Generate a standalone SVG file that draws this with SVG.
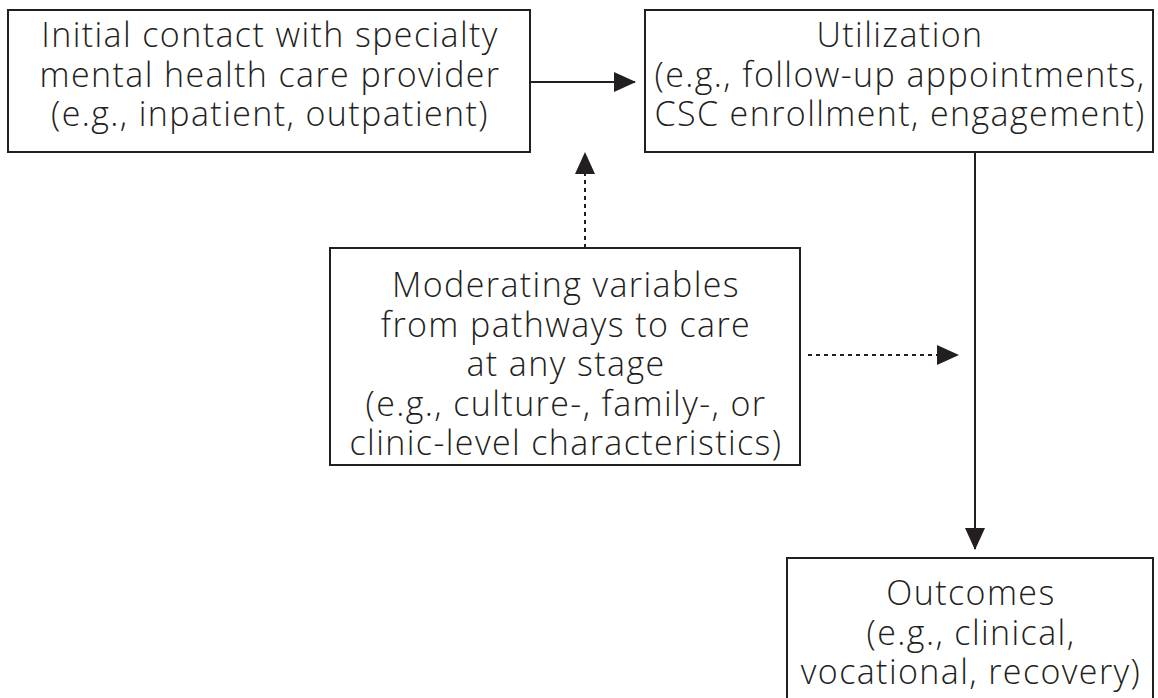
<svg xmlns="http://www.w3.org/2000/svg" width="1158" height="698" viewBox="0 0 1158 698">
<style>
.box{fill:#fff;stroke:#231f20;stroke-width:2}
.t{font-family:"Open Sans","Lato","DejaVu Sans",sans-serif;font-weight:300;font-size:34px;letter-spacing:1.4px;fill:#231f20;text-anchor:middle}
.c{stroke:#231f20;stroke-width:2;fill:none}
.d{stroke-dasharray:4 4}
</style>
<defs>
<marker id="ah" markerWidth="22" markerHeight="20" refX="21" refY="10" orient="auto" markerUnits="userSpaceOnUse">
<path d="M0,0 L22,10 L0,20 Z" fill="#231f20"/>
</marker>
</defs>
<rect width="1158" height="698" fill="#fff"/>
<g id="connectors">
<line class="c" x1="530" y1="82" x2="635" y2="82" marker-end="url(#ah)"/>
<line class="c d" x1="585" y1="248" x2="585" y2="153" marker-end="url(#ah)"/>
<line class="c d" x1="808" y1="355" x2="958" y2="355" marker-end="url(#ah)"/>
<line class="c" x1="975" y1="152" x2="975" y2="549" marker-end="url(#ah)"/>
</g>
<g id="initial">
<rect class="box" x="8" y="10" width="522" height="142"/>
<text class="t" x="270" y="47">Initial contact with specialty</text>
<text class="t" x="270" y="87">mental health care provider</text>
<text class="t" x="270" y="126">(e.g., inpatient, outpatient)</text>
</g>
<g id="utilization">
<rect class="box" x="645" y="10" width="508" height="142"/>
<text class="t" x="900" y="47">Utilization</text>
<text class="t" x="900" y="87">(e.g., follow-up appointments,</text>
<text class="t" x="900" y="126">CSC enrollment, engagement)</text>
</g>
<g id="moderating">
<rect class="box" x="330" y="248" width="470" height="217"/>
<text class="t" x="566" y="297">Moderating variables</text>
<text class="t" x="566" y="337">from pathways to care</text>
<text class="t" x="566" y="376">at any stage</text>
<text class="t" x="566" y="416">(e.g., culture-, family-, or</text>
<text class="t" x="566" y="455">clinic-level characteristics)</text>
</g>
<g id="outcomes">
<rect class="box" x="787" y="558" width="366" height="150"/>
<text class="t" x="971" y="605">Outcomes</text>
<text class="t" x="971" y="645">(e.g., clinical,</text>
<text class="t" x="971" y="684">vocational, recovery)</text>
</g>
</svg>
